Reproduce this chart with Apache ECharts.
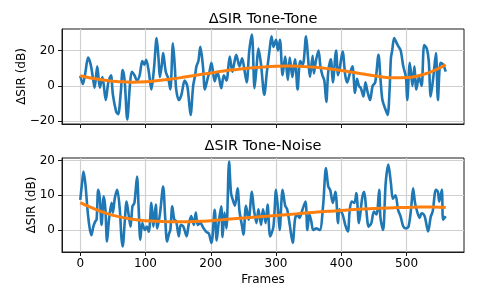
<!DOCTYPE html>
<html>
<head>
<meta charset="utf-8">
<script src="https://cdn.jsdelivr.net/npm/echarts@6/dist/echarts.min.js"></script>
<style>html,body{margin:0;padding:0;background:#fff}#c{width:478px;height:299px}</style>
</head>
<body>
<div id="c"></div>
<script>
// ---- data ----
const titles = ['ΔSIR Tone-Tone', 'ΔSIR Tone-Noise'];
const yLabel = 'ΔSIR (dB)';
const xLabel = 'Frames';
const xTicks = [0, 100, 200, 300, 400, 500];
const yTicksTT = [-20, 0, 20];
const yTicksTN = [0, 10, 20];

const ttFrames = [0,4,8,12,16,20,22,26,30,34,39,43,47,50,55,58,62,65,68,72,76,79,83,87,91,95,98,101,105,109,113,117,120,122,125,127,131,135,138,142,145,147,151,155,160,164,167,169,173,176,178,181,184,188,191,195,198,201,206,210,213,216,220,224,229,233,236,239,244,248,252,255,259,263,267,270,273,277,282,286,290,293,296,300,303,306,310,314,318,321,325,329,333,337,341,346,349,352,356,358,361,365,368,371,374,377,380,384,387,392,395,398,402,406,409,413,417,421,424,427,430,434,437,440,444,448,452,457,460,463,468,471,474,476,478,481,485,488,491,495,499,501,505,509,512,515,519,523,527,531,534,537,541,545,548,552,556,560];
const ttValues = [5.7,1,8,16,12,3,-1,11,-1,5,-8,2,6,-5,-14.5,-16,-4,9,3,-19,0,8,6,3,6,14,12,14.7,8,-2,10,27,15,5,12,18.5,8,4,-2,24,10,-2,-8,-5,3,0,-10,-16.4,0,6,11,14,22,11,-2,4,8,13,2.5,8,4,-1.3,6,3,16.6,8,13,17.5,11,15.6,8,2,20,29,-1.3,10,21,12,-5,8,20,28,22,26,20,26,6,16.6,3.4,16,5,15,-2,14,12,28,16,5,17,7,14,20,11,6,3,-9,8,15,2,20,6,11,19.4,6,2,7,11,-4,4,0,-1.3,-6,2,-3,-8,0,2,17.5,4,-8,-13.6,-16.4,-2,15.6,20,27,24,22,20,11,5,-8,13,0,11,-2,5,0,23,21,14,-6,5,18.5,-8,13,12,8];

const ttTrendFrames = [0,20,40,60,80,100,120,140,160,180,200,220,240,260,280,300,320,340,360,380,400,420,440,460,480,500,520,540,560];
const ttTrendValues = [5.7,4.2,3.1,2.4,2.1,2.3,3.0,3.9,5.0,6.2,7.3,8.4,9.3,10.1,10.7,11.1,11.2,11.0,10.5,9.7,8.7,7.5,6.3,5.2,4.6,4.7,5.9,8.3,11.9];

const tnFrames = [0,3,5,8,11,14,17,20,23,25,27.5,30,32.6,36,38.5,41,44,48,50,53,56.6,60.6,63,65,68,71,74,77,80,83,87,89.5,92,95,99,102,105,109,112,115.7,118,122,127,130,133,136,138,141,144,147,151,154,158,163,166,170,174,177,180,184,189,193,197,201,206,209,212,216,218,221,224,228,231,234,237,241,244,248,250,254,258,263,266,270,273,277,280,284,287,291,296,300,303,305.5,310,314,317,321,325.5,329,332,336,339,345,348,351,354,357,362,367,372,376.5,380,383,387,391,395,397,402,406,410,413,416,420,423,427,432,435,438,442,446,450,454,458,460,464,468,472,476,479,483,487,491,495,499,503,507,510,513,517,520,523,527,529,533,537,540,545,548,550,554,556,560];
const tnValues = [8.7,14,16.8,13,6,1,-1.5,1,2.5,3,11.6,9,1.5,9.7,6,-3.3,3,7.8,5,9.2,11.6,5.8,-2,-4.7,2,8.2,4.5,1,6.8,7.8,15.4,6,-2.8,2,0,1,-0.5,7.8,1,7.3,0.5,4.5,12.5,4,-3.3,-1,0,6.8,3,2.5,-1.8,1.5,1,-1.8,1.5,4,1.5,5,1.5,2,0.5,-0.5,-1,-3.7,5.8,-3,2,6.8,-2,5,0.5,19.7,10.6,8.5,7,12,5.4,1,-1.3,7,3,11,6,2,6,1.5,6,2,7.3,-1.8,1,11.6,6,0,11.6,7,6,1.5,-3.7,3,4.5,3.5,5,8.2,0,4.5,2.5,0,0.5,0,6.8,17.8,12.5,11.5,7.8,11,2,6,4.5,1.5,-0.4,6,8.2,7.8,10.6,2,9.2,11,6.3,1,2,5.3,4.5,11.6,3.5,0,13.5,18.8,13.5,9,10,5.8,3.8,1,0.5,1,6.3,12,7.8,4.8,3.5,4.8,4.3,3,-0.4,3.8,5.3,11.6,11,8.2,11.6,3,4];

const tnTrendFrames = [0,20,40,60,80,100,120,140,160,180,200,220,240,260,280,300,320,340,360,380,400,420,440,460,480,500,520,540,560];
const tnTrendValues = [7.9,6.2,4.8,3.8,3.1,2.7,2.5,2.4,2.4,2.5,2.7,3.0,3.3,3.6,3.9,4.2,4.5,4.8,5.1,5.4,5.6,5.9,6.1,6.3,6.4,6.5,6.6,6.6,6.5];

// ---- chart ----
const pair = (xs, ys) => xs.map((x, i) => [x, ys[i]]);
const FONT = 'DejaVu Sans';
const axisColor = '#1a1a1a';
const gridColor = '#d0d0d0';

function xAxisCfg(gridIndex, showLabels) {
  return {
    type: 'value', gridIndex, min: -28, max: 588,
    axisLine: { show: true, onZero: false, lineStyle: { color: axisColor, width: 1 } },
    axisTick: { show: true, inside: false, length: 4, customValues: xTicks, lineStyle: { color: axisColor } },
    axisLabel: { show: showLabels, customValues: xTicks, margin: 6, color: '#000', fontFamily: FONT, fontSize: 12 },
    splitLine: { show: true, lineStyle: { color: gridColor, width: 1.2 } },
    name: showLabels ? xLabel : '', nameLocation: 'middle', nameGap: 21.5, nameMoveOverlap: false,
    nameTextStyle: { color: '#000', fontFamily: FONT, fontSize: 12 }
  };
}
function yAxisCfg(gridIndex, min, max, ticks, gap) {
  return {
    type: 'value', gridIndex, min, max,
    axisLine: { show: true, onZero: false, lineStyle: { color: axisColor, width: 1 } },
    axisTick: { show: true, inside: false, length: 4, customValues: ticks, lineStyle: { color: axisColor } },
    axisLabel: { customValues: ticks, margin: 7, color: '#000', fontFamily: FONT, fontSize: 12,
      formatter: v => (v < 0 ? '\u2212' + Math.abs(v) : String(v)) },
    splitLine: { show: true, lineStyle: { color: gridColor, width: 1.2 } },
    name: yLabel, nameLocation: 'middle', nameGap: gap, nameRotate: 90, nameMoveOverlap: false,
    nameTextStyle: { color: '#000', fontFamily: FONT, fontSize: 12 }
  };
}

const chart = echarts.init(document.getElementById('c'), null, { renderer: 'canvas' });
chart.setOption({
  animation: false,
  backgroundColor: '#fff',
  title: [
    { text: titles[0], left: 263, top: 12, textAlign: 'center', padding: 0,
      textStyle: { fontFamily: FONT, fontSize: 14.5, fontWeight: 'normal', color: '#000' } },
    { text: titles[1], left: 263, top: 139, textAlign: 'center', padding: 0,
      textStyle: { fontFamily: FONT, fontSize: 14.5, fontWeight: 'normal', color: '#000' } }
  ],
  grid: [
    { left: 62, right: 14, top: 29, height: 95, show: true, borderColor: axisColor, borderWidth: 1, backgroundColor: 'transparent' },
    { left: 62, right: 14, top: 158, height: 94, show: true, borderColor: axisColor, borderWidth: 1, backgroundColor: 'transparent' }
  ],
  xAxis: [xAxisCfg(0, false), xAxisCfg(1, true)],
  yAxis: [yAxisCfg(0, -21.5, 32.1, yTicksTT, 34), yAxisCfg(1, -6.3, 20.7, yTicksTN, 24)],
  series: [
    { type: 'line', xAxisIndex: 0, yAxisIndex: 0, data: pair(ttFrames, ttValues), showSymbol: false, smooth: 0.3,
      lineStyle: { color: '#1f77b4', width: 2.6 }, z: 2 },
    { type: 'line', xAxisIndex: 0, yAxisIndex: 0, data: pair(ttTrendFrames, ttTrendValues), showSymbol: false, smooth: true,
      lineStyle: { color: '#ff7f0e', width: 3 }, z: 3 },
    { type: 'line', xAxisIndex: 1, yAxisIndex: 1, data: pair(tnFrames, tnValues), showSymbol: false, smooth: 0.3,
      lineStyle: { color: '#1f77b4', width: 2.6 }, z: 2 },
    { type: 'line', xAxisIndex: 1, yAxisIndex: 1, data: pair(tnTrendFrames, tnTrendValues), showSymbol: false, smooth: true,
      lineStyle: { color: '#ff7f0e', width: 3 }, z: 3 }
  ]
});
</script>
</body>
</html>
